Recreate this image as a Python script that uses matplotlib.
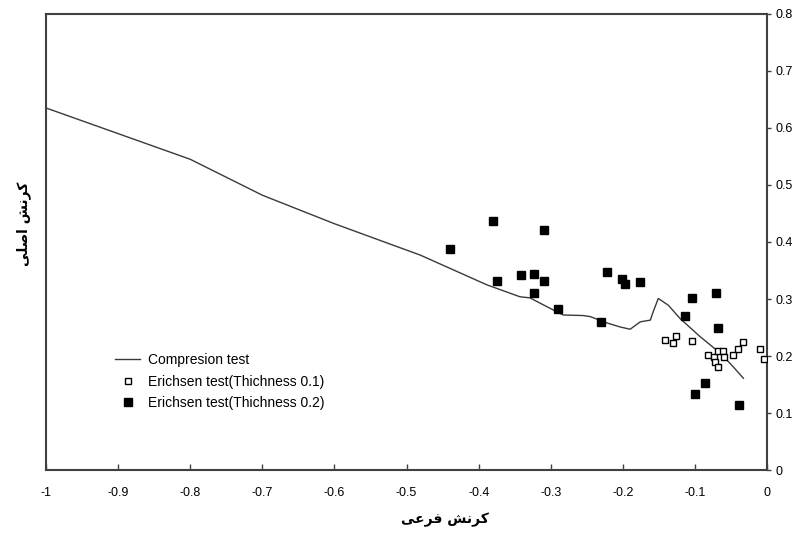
import numpy as np
import matplotlib
matplotlib.use("Agg")
import matplotlib.pyplot as plt

plt.rcParams['font.family'] = ['Liberation Sans', 'DejaVu Sans']
plt.rcParams['axes.unicode_minus'] = False

# === Données ===
comp_x = [-1.0, -0.9, -0.8, -0.7, -0.6, -0.52, -0.481, -0.435, -0.389, -0.343, -0.329,
          -0.297, -0.283, -0.255, -0.245, -0.222, -0.204, -0.190, -0.176, -0.162,
          -0.158, -0.151, -0.137, -0.121, -0.093, -0.065, -0.047, -0.033]
comp_y = [0.635, 0.590, 0.545, 0.482, 0.432, 0.395, 0.377, 0.351, 0.325, 0.304, 0.302,
          0.281, 0.272, 0.271, 0.269, 0.258, 0.251, 0.247, 0.260, 0.263,
          0.278, 0.301, 0.289, 0.266, 0.234, 0.205, 0.181, 0.161]

e1_x = [-0.142, -0.131, -0.126, -0.104, -0.082, -0.074, -0.068, -0.061, -0.060,
        -0.073, -0.068, -0.047, -0.041, -0.034, -0.010, -0.005]
e1_y = [0.228, 0.222, 0.235, 0.226, 0.202, 0.199, 0.209, 0.209, 0.199,
        0.190, 0.181, 0.202, 0.212, 0.225, 0.212, 0.194]

e2_x = [-0.440, -0.380, -0.309, -0.375, -0.341, -0.323, -0.309, -0.323, -0.290, -0.230,
        -0.222, -0.202, -0.197, -0.177, -0.104, -0.071, -0.114, -0.068, -0.086, -0.100,
        -0.039]
e2_y = [0.388, 0.437, 0.421, 0.332, 0.342, 0.344, 0.332, 0.311, 0.282, 0.260,
        0.347, 0.335, 0.327, 0.329, 0.301, 0.311, 0.271, 0.250, 0.153, 0.133,
        0.115]

x_ticks = [-1, -0.9, -0.8, -0.7, -0.6, -0.5, -0.4, -0.3, -0.2, -0.1, 0]
x_ticklabels = ['-1', '-0.9', '-0.8', '-0.7', '-0.6', '-0.5', '-0.4', '-0.3', '-0.2', '-0.1', '0']
y_ticks = [0, 0.1, 0.2, 0.3, 0.4, 0.5, 0.6, 0.7, 0.8]
y_ticklabels = ['0', '0.1', '0.2', '0.3', '0.4', '0.5', '0.6', '0.7', '0.8']

labels = ["Compresion test", "Erichsen test(Thichness 0.1)", "Erichsen test(Thichness 0.2)"]

# libellés persans (formes de présentation, ordre visuel)
xlabel_fa = "\uFBFD\uFECB\uFEAE\uFED3 \uFEB6\uFEE7\uFEAE\uFB90"   # کرنش فرعی
ylabel_fa = "\uFBFD\uFEE0\uFEBB\uFE8D \uFEB6\uFEE7\uFEAE\uFB90"   # کرنش اصلی

# === Tracé ===
fig = plt.figure(figsize=(8, 5.33), dpi=100)
ax = fig.add_axes([0.0575, 0.118, 0.9015, 0.856])

ax.plot(comp_x, comp_y, color='#3a3a3a', lw=1.0, label=labels[0], zorder=3)
ax.plot(e1_x, e1_y, ls='none', marker='s', ms=5, mfc='white', mec='black', mew=1.0,
        label=labels[1], zorder=4)
ax.plot(e2_x, e2_y, ls='none', marker='s', ms=5.5, mfc='black', mec='black',
        label=labels[2], zorder=4)

ax.set_xlim(-1, 0)
ax.set_ylim(0, 0.8)
ax.set_xticks(x_ticks)
ax.set_xticklabels(x_ticklabels)
ax.set_yticks(y_ticks)
ax.set_yticklabels(y_ticklabels)
ax.yaxis.tick_right()
ax.tick_params(axis='x', direction='in', length=4, width=1, color='#404040',
               labelsize=9, pad=12)
ax.tick_params(axis='y', direction='out', length=3, width=1, color='#404040',
               labelsize=9, pad=3, left=False)
for s in ax.spines.values():
    s.set_color('#404040')
    s.set_linewidth(1.5)

fig.text(0.556, 0.025, xlabel_fa, ha='center', va='center', fontsize=10,
         fontweight='bold', family=['DejaVu Sans'])
fig.text(0.03, 0.58, ylabel_fa, ha='center', va='center', rotation=90, fontsize=10,
         fontweight='bold', family=['DejaVu Sans'])

ax.legend(loc='upper left', bbox_to_anchor=(0.137, 0.348), bbox_transform=fig.transFigure,
          frameon=False, fontsize=10, handlelength=1.8, handletextpad=0.6,
          labelspacing=0.55, borderaxespad=0)

plt.savefig("out.png", dpi=100)
